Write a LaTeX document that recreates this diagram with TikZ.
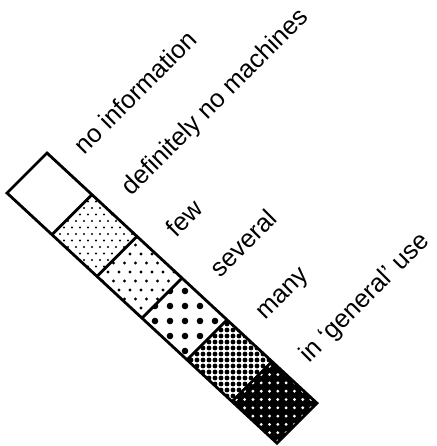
\documentclass[tikz,border=0pt]{standalone}
\usepackage{fontspec}
\setmainfont{Liberation Sans}
\newcommand\dotfield[7]{%
  \foreach \j in {0,...,16}{%
    \foreach \i in {-1,...,16}{%
      \fill[#7] ({#1+\i*#3+mod(\j,2)*#5},{#2+\j*#4}) circle[radius=#6pt];
    }}}
\begin{document}
\begin{tikzpicture}[x=1pt,y=-1pt,
  lbl/.style={anchor=base west, rotate=45, font=\fontsize{25.5}{30}\selectfont, inner sep=0pt},
  cellborder/.style={line width=2.8pt, line join=miter}]
\useasboundingbox (0,0) rectangle (436,446);
\foreach \k in {0,...,6}{
  \coordinate (L\k) at ({7+45*\k},{193+41.7*\k});
  \coordinate (T\k) at ({47+45*\k},{153+41.7*\k});
}
% cell 2: fine dots
\begin{scope}
  \clip (L1) -- (T1) -- (T2) -- (L2) -- cycle;
  \dotfield{52}{195}{8}{6.5}{4}{1.2}{black}
\end{scope}
% cell 3: medium dots
\begin{scope}
  \clip (L2) -- (T2) -- (T3) -- (L3) -- cycle;
  \dotfield{97}{236}{11}{9}{5.5}{1.7}{black}
\end{scope}
% cell 4: large dots
\begin{scope}
  \clip (L3) -- (T3) -- (T4) -- (L4) -- cycle;
  \dotfield{140}{276}{15}{15}{0}{3.3}{black}
\end{scope}
% cell 5: dense dots
\begin{scope}
  \clip (L4) -- (T4) -- (T5) -- (L5) -- cycle;
  \dotfield{185}{318}{6}{6}{0}{2.4}{black}
\end{scope}
% cell 6: black with white dots
\begin{scope}
  \clip (L5) -- (T5) -- (T6) -- (L6) -- cycle;
  \fill[black] (L5) -- (T5) -- (T6) -- (L6) -- cycle;
  \dotfield{228}{358}{8.3}{8.3}{0}{1.6}{white}
\end{scope}
% borders
\draw[cellborder] (L0) -- (T0) -- (T6) -- (L6) -- cycle;
\foreach \k in {1,...,5}{
  \draw[cellborder] (L\k) -- (T\k);
}
% labels
\node[lbl] (t1) at (84,155.5) {no information};
\node[lbl] (t2) at (131,197) {definitely no machines};
\node[lbl] (t3) at (176,238.7) {few};
\node[lbl] (t4) at (220,279) {several};
\node[lbl] (t5) at (265,321) {many};
\node[lbl] (t6) at (309,363.5) {in ‘general’ use};
\end{tikzpicture}
\end{document}
